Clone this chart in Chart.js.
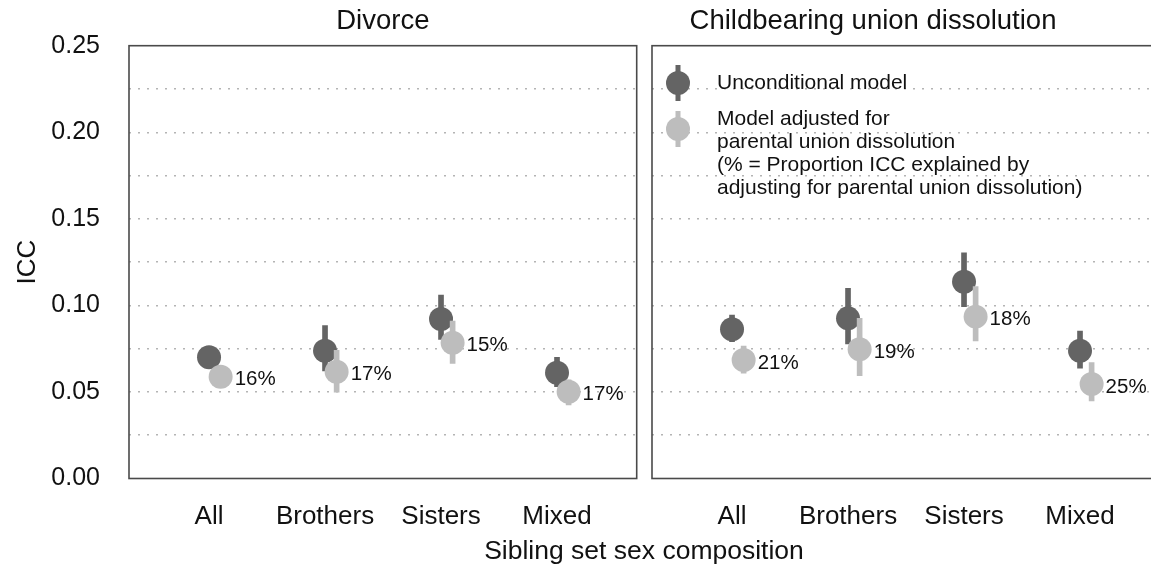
<!DOCTYPE html>
<html>
<head>
<meta charset="utf-8">
<script src="https://cdn.jsdelivr.net/npm/chart.js@4.4.1/dist/chart.umd.min.js"></script>
<style>
  html, body { margin: 0; padding: 0; background: #ffffff; overflow: hidden; width: 1151px; height: 568px; }
  #wrap { position: relative; width: 1151px; height: 568px; overflow: hidden; }
  canvas { position: absolute; top: 0; }
  #c1 { left: 0; }
  #c2 { left: 645px; }
  #xtitle { position: absolute; left: 0; width: 1288px; top: 534px; text-align: center;
            font-family: "Liberation Sans", Arial, sans-serif; font-size: 26.5px; color: #111111; line-height: 32px; }
</style>
</head>
<body>
<div id="wrap">
  <canvas id="c1" width="645" height="568"></canvas>
  <canvas id="c2" width="523" height="568"></canvas>
  <div id="xtitle">Sibling set sex composition</div>
</div>
<script>
// ---------- data ----------
const categories = ['All', 'Brothers', 'Sisters', 'Mixed'];
const panelTitles = ['Divorce', 'Childbearing union dissolution'];
const yTickValues = [0, 0.025, 0.05, 0.075, 0.1, 0.125, 0.15, 0.175, 0.2, 0.225, 0.25];
const yTickLabels = ['0.00', '', '0.05', '', '0.10', '', '0.15', '', '0.20', '', '0.25'];

// Divorce panel
const divUncond   = [0.0700, 0.0738, 0.0921, 0.0611];
const divUncondLo = [0.0655, 0.0621, 0.0804, 0.0530];
const divUncondHi = [0.0745, 0.0883, 0.1060, 0.0700];
const divAdj      = [0.0588, 0.0617, 0.0784, 0.0501];
const divAdjLo    = [0.0545, 0.0498, 0.0665, 0.0425];
const divAdjHi    = [0.0630, 0.0740, 0.0910, 0.0570];
const divPct      = ['16%', '17%', '15%', '17%'];

// Childbearing union dissolution panel
const cbUncond   = [0.0862, 0.0925, 0.1137, 0.0738];
const cbUncondLo = [0.0790, 0.0777, 0.0992, 0.0637];
const cbUncondHi = [0.0944, 0.1099, 0.1303, 0.0852];
const cbAdj      = [0.0684, 0.0746, 0.0935, 0.0546];
const cbAdjLo    = [0.0608, 0.0594, 0.0794, 0.0448];
const cbAdjHi    = [0.0765, 0.0925, 0.1108, 0.0669];
const cbPct      = ['21%', '19%', '18%', '25%'];

const legendLabels = ['Unconditional model',
  ['Model adjusted for', 'parental union dissolution', '(% = Proportion ICC explained by', 'adjusting for parental union dissolution)']];

// ---------- style ----------
const DARK = '#646464';
const LIGHT = '#bdbdbd';
const FONT = '"Liberation Sans", Arial, sans-serif';
const DODGE = 0.1;

function buildDatasets(u, uLo, uHi, a, aLo, aHi) {
  return [
    { type: 'bar', data: categories.map((c, i) => ({ x: i + 1, y: [uLo[i], uHi[i]] })),
      backgroundColor: DARK, barThickness: 5, grouped: false, order: 4 },
    { type: 'scatter', data: categories.map((c, i) => ({ x: i + 1, y: u[i] })),
      backgroundColor: DARK, borderWidth: 0, pointRadius: 12, pointHoverRadius: 12, order: 3 },
    { type: 'bar', data: categories.map((c, i) => ({ x: i + 1 + DODGE, y: [aLo[i], aHi[i]] })),
      backgroundColor: LIGHT, barThickness: 5, grouped: false, order: 2 },
    { type: 'scatter', data: categories.map((c, i) => ({ x: i + 1 + DODGE, y: a[i] })),
      backgroundColor: LIGHT, borderWidth: 0, pointRadius: 12, pointHoverRadius: 12, order: 1 }
  ];
}

const framePlugin = {
  id: 'frame',
  afterDraw(chart, args, opts) {
    const { ctx, chartArea: ca } = chart;
    ctx.save();
    ctx.strokeStyle = '#4a4a4a';
    ctx.lineWidth = 1.6;
    ctx.strokeRect(ca.left, ca.top, ca.right - ca.left, ca.bottom - ca.top);
    // strip title
    ctx.fillStyle = '#111111';
    ctx.font = '27.5px ' + FONT;
    ctx.textAlign = 'center';
    ctx.textBaseline = 'middle';
    const cx = opts.titleOffset != null ? ca.left + opts.titleOffset : (ca.left + ca.right) / 2;
    ctx.fillText(opts.title, cx, 21);
    ctx.restore();
  }
};

const pctPlugin = {
  id: 'pct',
  afterDatasetsDraw(chart, args, opts) {
    const { ctx } = chart;
    const meta = chart.getDatasetMeta(3);
    ctx.save();
    ctx.fillStyle = '#111111';
    ctx.font = '20.5px ' + FONT;
    ctx.textAlign = 'left';
    ctx.textBaseline = 'middle';
    meta.data.forEach((el, i) => {
      ctx.fillText(opts.labels[i], el.x + 14, el.y + 3);
    });
    ctx.restore();
  }
};

const legendPlugin = {
  id: 'customLegend',
  afterDraw(chart, args, opts) {
    if (!opts.show) return;
    const { ctx, chartArea: ca } = chart;
    const gx = ca.left + 26;
    const tx = ca.left + 65;
    ctx.save();
    function glyph(color, cy) {
      ctx.fillStyle = color;
      ctx.fillRect(gx - 2.5, cy - 18, 5, 36);
      ctx.beginPath();
      ctx.arc(gx, cy, 12, 0, Math.PI * 2);
      ctx.fill();
    }
    glyph(DARK, 83);
    glyph(LIGHT, 129);
    ctx.fillStyle = '#111111';
    ctx.font = '21px ' + FONT;
    ctx.textAlign = 'left';
    ctx.textBaseline = 'middle';
    ctx.fillText(legendLabels[0], tx, 83);
    legendLabels[1].forEach((t, i) => ctx.fillText(t, tx, 119 + i * 23));
    ctx.restore();
  }
};

function makeChart(canvasId, datasets, opts) {
  return new Chart(document.getElementById(canvasId), {
    type: 'scatter',
    data: { datasets },
    options: {
      responsive: false,
      animation: false,
      devicePixelRatio: 1,
      layout: { autoPadding: false, padding: { top: 45.7, right: 8.3, bottom: 0, left: 0 } },
      plugins: {
        legend: { display: false },
        tooltip: { enabled: false },
        frame: { title: opts.title, titleOffset: opts.titleOffset },
        pct: { labels: opts.pct },
        customLegend: { show: opts.legend }
      },
      scales: {
        x: {
          type: 'linear',
          min: 0.31, max: 4.687,
          offset: false,
          grid: { display: false, drawTicks: false },
          border: { display: false },
          afterBuildTicks: (s) => { s.ticks = categories.map((c, i) => ({ value: i + 1 })); },
          afterFit: (s) => { s.height = 89.5; },
          ticks: {
            autoSkip: false, maxRotation: 0,
            padding: 23,
            color: '#111111',
            font: { family: FONT, size: 26 },
            callback: (v) => categories[Math.round(v) - 1]
          }
        },
        y: {
          type: 'linear',
          min: 0, max: 0.25,
          grid: {
            drawTicks: false,
            color: (c) => (c.tick && (c.tick.value <= 0.0001 || c.tick.value >= 0.2499)) ? 'rgba(0,0,0,0)' : '#b4b4b4',
            lineWidth: 1.5
          },
          border: { display: false, dash: [2, 7] },
          afterBuildTicks: (s) => { s.ticks = yTickValues.map(v => ({ value: v })); },
          afterFit: (s) => { s.width = opts.yWidth; },
          title: {
            display: opts.yAxis,
            text: 'ICC',
            color: '#111111',
            font: { family: FONT, size: 26 },
            padding: { top: 12, bottom: 0 }
          },
          ticks: {
            display: opts.yAxis,
            autoSkip: false,
            padding: 29,
            color: '#111111',
            font: { family: FONT, size: 25 },
            callback: (v) => { const i = yTickValues.findIndex(t => Math.abs(t - v) < 1e-6); return i >= 0 ? yTickLabels[i] : ''; }
          }
        }
      }
    },
    plugins: [framePlugin, pctPlugin, legendPlugin]
  });
}

makeChart('c1', buildDatasets(divUncond, divUncondLo, divUncondHi, divAdj, divAdjLo, divAdjHi),
  { title: panelTitles[0], pct: divPct, legend: false, yAxis: true, yWidth: 129, titleOffset: null });
makeChart('c2', buildDatasets(cbUncond, cbUncondLo, cbUncondHi, cbAdj, cbAdjLo, cbAdjHi),
  { title: panelTitles[1], pct: cbPct, legend: true, yAxis: false, yWidth: 7, titleOffset: 221 });
</script>
</body>
</html>
